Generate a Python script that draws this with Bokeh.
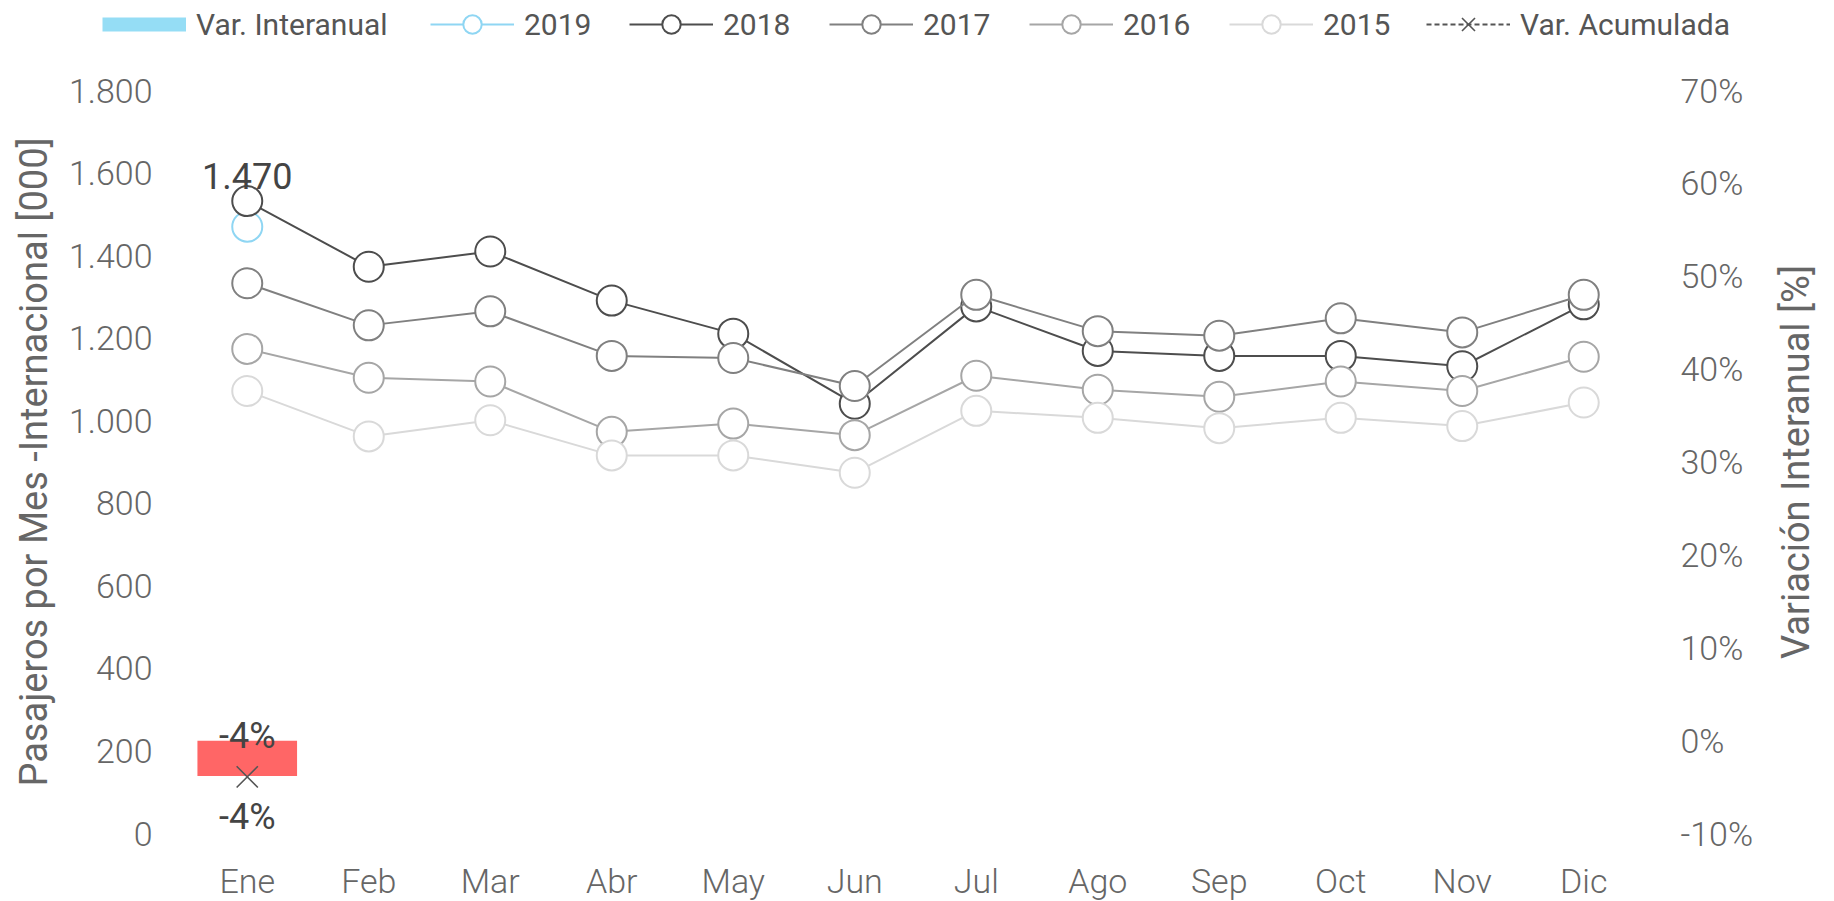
import math
from bokeh.plotting import figure
from bokeh.layouts import column, row
from bokeh.models import (Range1d, LinearAxis, FixedTicker, Legend, LegendItem, Label)
from bokeh.core.properties import value
from bokeh.embed import file_html
from bokeh.resources import INLINE

# ---------------- data ----------------
months = ["Ene", "Feb", "Mar", "Abr", "May", "Jun", "Jul", "Ago", "Sep", "Oct", "Nov", "Dic"]
y2019 = [1470]
y2018 = [1532, 1373, 1410, 1291, 1211, 1041, 1277, 1169, 1157, 1157, 1132, 1282]
y2017 = [1333, 1231, 1265, 1157, 1152, 1084, 1305, 1217, 1206, 1248, 1214, 1305]
y2016 = [1174, 1104, 1095, 973, 993, 965, 1109, 1075, 1058, 1095, 1072, 1155]
y2015 = [1072, 962, 1001, 916, 916, 874, 1024, 1007, 982, 1007, 987, 1044]
var_interanual = [-3.8]
var_acumulada = [-3.9]
left_ticks = [0, 200, 400, 600, 800, 1000, 1200, 1400, 1600, 1800]
left_tick_labels = ["0", "200", "400", "600", "800", "1.000", "1.200", "1.400", "1.600", "1.800"]
right_ticks = [-10, 0, 10, 20, 30, 40, 50, 60, 70]
right_tick_labels = ["-10%", "0%", "10%", "20%", "30%", "40%", "50%", "60%", "70%"]
series_names = ["2019", "2018", "2017", "2016", "2015"]
legend_labels = ["Var. Interanual"] + series_names + ["Var. Acumulada"]

# ---------------- styles / layout ----------------
LIGHT = "Roboto Light, Roboto"
REG = "Roboto"
col_year = {"2019": "#8FD6F3", "2018": "#4D4D4D", "2017": "#808080",
            "2016": "#A6A6A6", "2015": "#D9D9D9"}
bar_color = "#FF6666"
legend_bar_color = "#95DDF5"
acum_color = "#555555"
tick_color = "#666666"
label_color = "#444444"

TOTAL_W, TOTAL_H = 1834, 901
LEG_H = 44
LTITLE_W = 60
RTITLE_W = 70
MAIN_W = TOTAL_W - LTITLE_W - RTITLE_W
MAIN_H = TOTAL_H - LEG_H
Y_TOP_PX = 46      # pixel row of the top tick (from top of main canvas)
Y_ZERO_PX = 789    # pixel row of the zero tick
ppu = (Y_ZERO_PX - Y_TOP_PX) / (left_ticks[-1] - left_ticks[0])
y_start = left_ticks[0] - (MAIN_H - Y_ZERO_PX) / ppu
y_end = left_ticks[-1] + Y_TOP_PX / ppu
r_ppu = (Y_ZERO_PX - Y_TOP_PX) / (right_ticks[-1] - right_ticks[0])
r_start = right_ticks[0] - (MAIN_H - Y_ZERO_PX) / r_ppu
r_end = right_ticks[-1] + Y_TOP_PX / r_ppu
TITLE_CY = MAIN_H - (Y_TOP_PX + Y_ZERO_PX) / 2   # from bottom, screen units

p = figure(width=MAIN_W, height=MAIN_H, x_range=months, y_range=Range1d(y_start, y_end),
           output_backend="svg", toolbar_location=None,
           min_border_left=126, min_border_right=120, min_border_top=0,
           min_border_bottom=0)
p.extra_y_ranges = {"pct": Range1d(r_start, r_end)}
p.outline_line_color = None
p.xgrid.visible = False
p.ygrid.visible = False
p.xaxis.visible = False

yax = p.yaxis[0]
yax.ticker = FixedTicker(ticks=left_ticks)
yax.major_label_overrides = {t: l for t, l in zip(left_ticks, left_tick_labels)}
yax.major_label_standoff = 34

rax = LinearAxis(y_range_name="pct")
rax.ticker = FixedTicker(ticks=right_ticks)
rax.major_label_overrides = {t: l for t, l in zip(right_ticks, right_tick_labels)}
rax.major_label_standoff = 36
p.add_layout(rax, "right")

for ax in [yax, rax]:
    ax.axis_line_color = None
    ax.major_tick_line_color = None
    ax.minor_tick_line_color = None
    ax.major_tick_out = 0
    ax.major_tick_in = 0
    ax.major_label_text_font = LIGHT
    ax.major_label_text_font_size = "34px"
    ax.major_label_text_color = tick_color

# category labels under the zero line
p.text(x=months, y=[0] * len(months), text=months, y_offset=47,
       text_font=value(LIGHT), text_font_size="34px", text_color=tick_color,
       text_align="center", text_baseline="middle")

# ---------------- bars ----------------
p.vbar(x=months[:len(var_interanual)], top=[0] * len(var_interanual), bottom=var_interanual,
       width=0.82, y_range_name="pct", fill_color=bar_color, line_color=None)

# ---------------- lines ----------------
data = {"2019": y2019, "2018": y2018, "2017": y2017, "2016": y2016, "2015": y2015}
for name in series_names:
    vals = data[name]
    xs = months[:len(vals)]
    p.line(xs, vals, line_color=col_year[name], line_width=2)
    p.scatter(xs, vals, size=30, marker="circle", fill_color="white",
              line_color=col_year[name], line_width=2)

p.line(months[:len(var_acumulada)], var_acumulada, y_range_name="pct",
       line_color=acum_color, line_width=2, line_dash="5 3")
p.scatter(months[:len(var_acumulada)], var_acumulada, y_range_name="pct",
          marker="x", size=30, line_color=acum_color, line_width=1.6)

# ---------------- data labels ----------------
def fmt_thousands(v):
    return f"{v:,}".replace(",", ".")

p.text(x=months[:len(y2019)], y=y2019, text=[fmt_thousands(v) for v in y2019],
       text_font=value(REG), text_font_size="36px", text_color=label_color,
       text_align="center", text_baseline="middle", y_offset=-51)
p.text(x=months[:len(var_interanual)], y=[0] * len(var_interanual),
       text=[f"{v:.0f}%" for v in var_interanual], y_range_name="pct",
       text_font=value(REG), text_font_size="36px", text_color=label_color,
       text_align="center", text_baseline="middle", y_offset=-5)
p.text(x=months[:len(var_acumulada)], y=var_acumulada,
       text=[f"{v:.0f}%" for v in var_acumulada], y_range_name="pct",
       text_font=value(REG), text_font_size="36px", text_color=label_color,
       text_align="center", text_baseline="middle", y_offset=40)


# ---------------- axis titles (separate panels, read bottom-to-top) ----------------
def title_panel(width, text, x_center):
    f = figure(width=width, height=MAIN_H, x_range=Range1d(0, 1), y_range=Range1d(0, 1),
               output_backend="svg", toolbar_location=None, min_border=0)
    f.axis.visible = False
    f.grid.visible = False
    f.outline_line_color = None
    f.add_layout(Label(x=x_center, y=TITLE_CY, x_units="screen", y_units="screen",
                       text=text, angle=math.pi / 2,
                       text_font=REG, text_font_size="38px", text_color=tick_color,
                       text_align="center", text_baseline="middle"))
    return f

lt = title_panel(LTITLE_W, "Pasajeros por Mes -Internacional [000]", 33)
rt = title_panel(RTITLE_W, "Variación Interanual [%]", 31)

# ---------------- legend panel ----------------
lf = figure(width=TOTAL_W, height=LEG_H, x_range=Range1d(0, 1), y_range=Range1d(0, 1),
            output_backend="svg", toolbar_location=None, min_border=0)
lf.axis.visible = False
lf.grid.visible = False
lf.outline_line_color = None
off = dict(x=[-5], y=[-5])  # outside the (invisible) panel range: legend swatches only
rend = []
rend.append([lf.line(**off, line_color=legend_bar_color, line_width=14)])
for name in series_names:
    rend.append([lf.line(**off, line_color=col_year[name], line_width=2),
                 lf.scatter(**off, marker="circle", fill_color="white",
                            line_color=col_year[name], line_width=2)])
rend.append([lf.line(**off, line_color=acum_color, line_width=2, line_dash="5 3"),
             lf.scatter(**off, marker="x", line_color=acum_color, line_width=1.6)])
legend_x = [102, 430, 629, 829, 1029, 1229, 1426]
GH = 46
for lab, rr, lx in zip(legend_labels, rend, legend_x):
    lg = Legend(items=[LegendItem(label=lab, renderers=rr)], location=(lx, LEG_H - 24 - GH / 2),
                padding=0, margin=0, label_standoff=10,
                glyph_width=84, glyph_height=GH,
                border_line_color=None, background_fill_alpha=0,
                label_text_font=REG, label_text_font_size="30px",
                label_text_color="#555555", label_text_baseline="middle")
    lf.add_layout(lg)

layout = column(lf, row(lt, p, rt, spacing=0), spacing=0)
open("out.html", "w").write(file_html(layout, INLINE))
